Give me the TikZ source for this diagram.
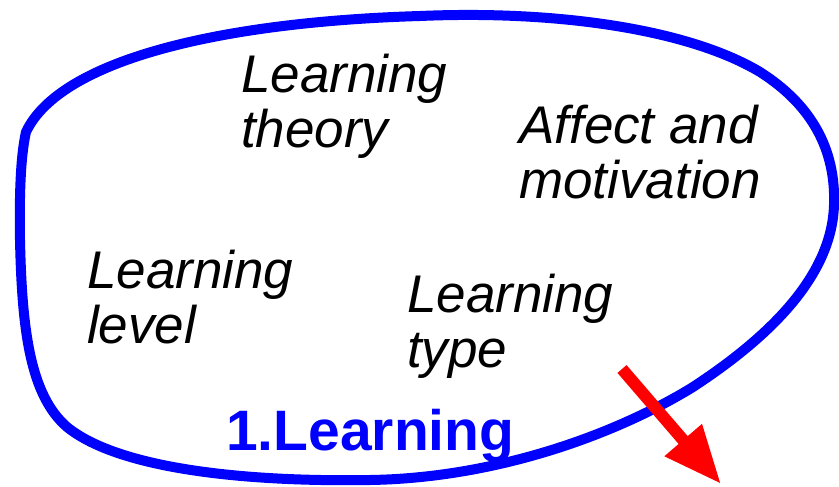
\documentclass[tikz,border=0pt]{standalone}
\usepackage{fontspec}
\setmainfont{Liberation Sans}
\usetikzlibrary{arrows.meta}

\tikzset{
  topic/.style={anchor=base west, inner sep=0pt, align=left,
    font=\itshape\fontsize{53}{55}\selectfont},
  blob/.style={draw=blue, line width=10pt, line join=round},
  redarrow/.style={draw=red, line width=12pt,
    -{Triangle[length=58pt,width=46pt]}}
}

\begin{document}
\begin{tikzpicture}[x=1pt,y=-1pt]
\useasboundingbox (0,0) rectangle (839,487);

% --- Outline of the area ---
\draw[blob] (26,132)
  .. controls (60,60) and (220,22) .. (420,16)
  .. controls (560,10) and (690,30) .. (760,72)
  .. controls (812,105) and (836,150) .. (834,205)
  .. controls (832,270) and (780,330) .. (693,387)
  .. controls (620,432) and (500,478) .. (370,480)
  .. controls (250,482) and (120,470) .. (67,427)
  .. controls (30,395) and (22,330) .. (20,240)
  .. controls (19,180) and (22,150) .. cycle;

% --- Topics inside (base = last line) ---
\node[topic] (theory) at (241,147) {Learning\\theory};
\node[topic] (affect) at (519,198) {Affect and\\motivation};
\node[topic] (level) at (87,343) {Learning\\level};
\node[topic] (type) at (407,367) {Learning\\type};

% --- Title ---
\node[anchor=base west, inner sep=0pt, text=blue,
  font=\bfseries\fontsize{57}{60}\selectfont] (title) at (226,450) {1.Learning};

% --- Arrow out of the area ---
\coordinate (out1) at (622,369);
\coordinate (out2) at (721,484);
\draw[redarrow] (out1) -- (out2);

\end{tikzpicture}
\end{document}
